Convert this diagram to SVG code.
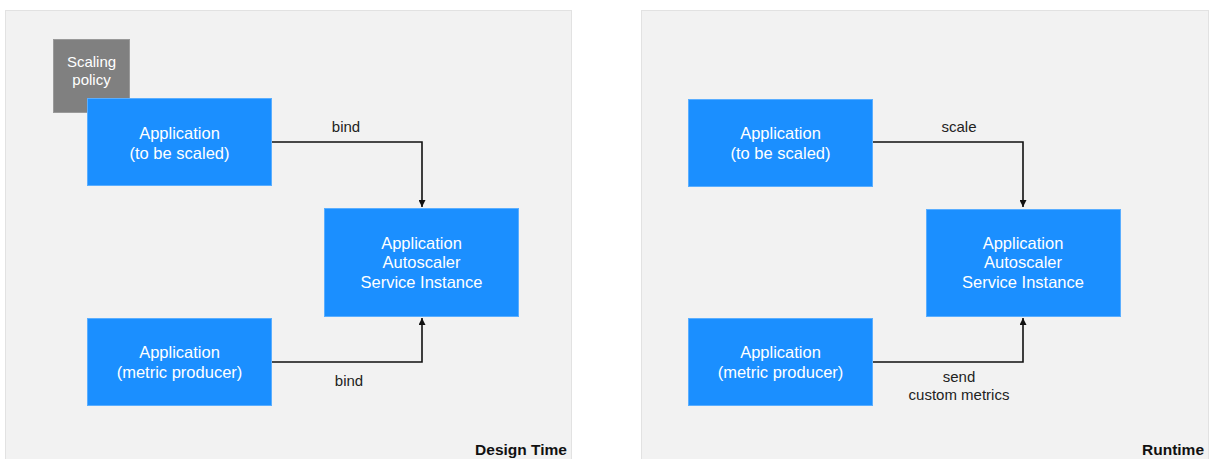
<svg xmlns="http://www.w3.org/2000/svg" width="1211" height="459" viewBox="0 0 1211 459">
<defs>
<style>
.panel{fill:#f2f2f2;stroke:#e2e2e2;stroke-width:1}
.box{fill:#1b8fff;stroke:#5aaeff;stroke-width:1}
.gbox{fill:#808080;stroke:#9a9a9a;stroke-width:1}
.bt{font-family:"Liberation Sans",Arial,sans-serif;font-size:16.5px;fill:#ffffff;text-anchor:middle}
.st{font-family:"Liberation Sans",Arial,sans-serif;font-size:15px;fill:#ffffff;text-anchor:middle}
.lbl{font-family:"Liberation Sans",Arial,sans-serif;font-size:15px;fill:#222222;text-anchor:middle}
.title{font-family:"Liberation Sans",Arial,sans-serif;font-size:15.5px;font-weight:bold;fill:#111111;text-anchor:end}
.conn{fill:none;stroke:#111111;stroke-width:1.6}
</style>
<marker id="arr" viewBox="0 0 10 10" refX="10" refY="5" markerWidth="7" markerHeight="7" markerUnits="userSpaceOnUse" orient="auto">
<path d="M0,0 L10,5 L0,10 z" fill="#111111"/>
</marker>
</defs>
<rect x="0" y="0" width="1211" height="459" fill="#ffffff"/>
<g id="panel-design">
<rect class="panel" x="5.5" y="10.5" width="566" height="450"/>
<text class="title" x="567" y="455">Design Time</text>
</g>
<g id="panel-runtime">
<rect class="panel" x="641.5" y="10.5" width="567" height="450"/>
<text class="title" x="1204" y="455">Runtime</text>
</g>
<g id="connectors">
<polyline class="conn" points="271,142 422,142 422,207" marker-end="url(#arr)"/>
<polyline class="conn" points="271,362 422,362 422,318" marker-end="url(#arr)"/>
<polyline class="conn" points="872,142 1023,142 1023,207" marker-end="url(#arr)"/>
<polyline class="conn" points="872,362 1023,362 1023,318" marker-end="url(#arr)"/>
<text class="lbl" x="346" y="132">bind</text>
<text class="lbl" x="349" y="386">bind</text>
<text class="lbl" x="959" y="132">scale</text>
<text class="lbl" x="959" y="382">send</text>
<text class="lbl" x="959" y="400">custom metrics</text>
</g>
<g id="scaling-policy">
<rect class="gbox" x="53.5" y="39.5" width="76" height="73"/>
<text class="st" x="91.5" y="67">Scaling</text>
<text class="st" x="91.5" y="85">policy</text>
</g>
<g id="app-scaled-design">
<rect class="box" x="87.5" y="98.5" width="184" height="87"/>
<text class="bt" x="179.5" y="139">Application</text>
<text class="bt" x="179.5" y="159">(to be scaled)</text>
</g>
<g id="autoscaler-design">
<rect class="box" x="324.5" y="208.5" width="194" height="108"/>
<text class="bt" x="421.5" y="249">Application</text>
<text class="bt" x="421.5" y="268">Autoscaler</text>
<text class="bt" x="421.5" y="288">Service Instance</text>
</g>
<g id="app-metric-design">
<rect class="box" x="87.5" y="318.5" width="184" height="87"/>
<text class="bt" x="179.5" y="358">Application</text>
<text class="bt" x="179.5" y="378">(metric producer)</text>
</g>
<g id="app-scaled-runtime">
<rect class="box" x="688.5" y="99.5" width="184" height="87"/>
<text class="bt" x="780.5" y="139">Application</text>
<text class="bt" x="780.5" y="159">(to be scaled)</text>
</g>
<g id="autoscaler-runtime">
<rect class="box" x="926.5" y="209.5" width="194" height="107"/>
<text class="bt" x="1023" y="249">Application</text>
<text class="bt" x="1023" y="268">Autoscaler</text>
<text class="bt" x="1023" y="288">Service Instance</text>
</g>
<g id="app-metric-runtime">
<rect class="box" x="688.5" y="318.5" width="184" height="87"/>
<text class="bt" x="780.5" y="358">Application</text>
<text class="bt" x="780.5" y="378">(metric producer)</text>
</g>
</svg>
